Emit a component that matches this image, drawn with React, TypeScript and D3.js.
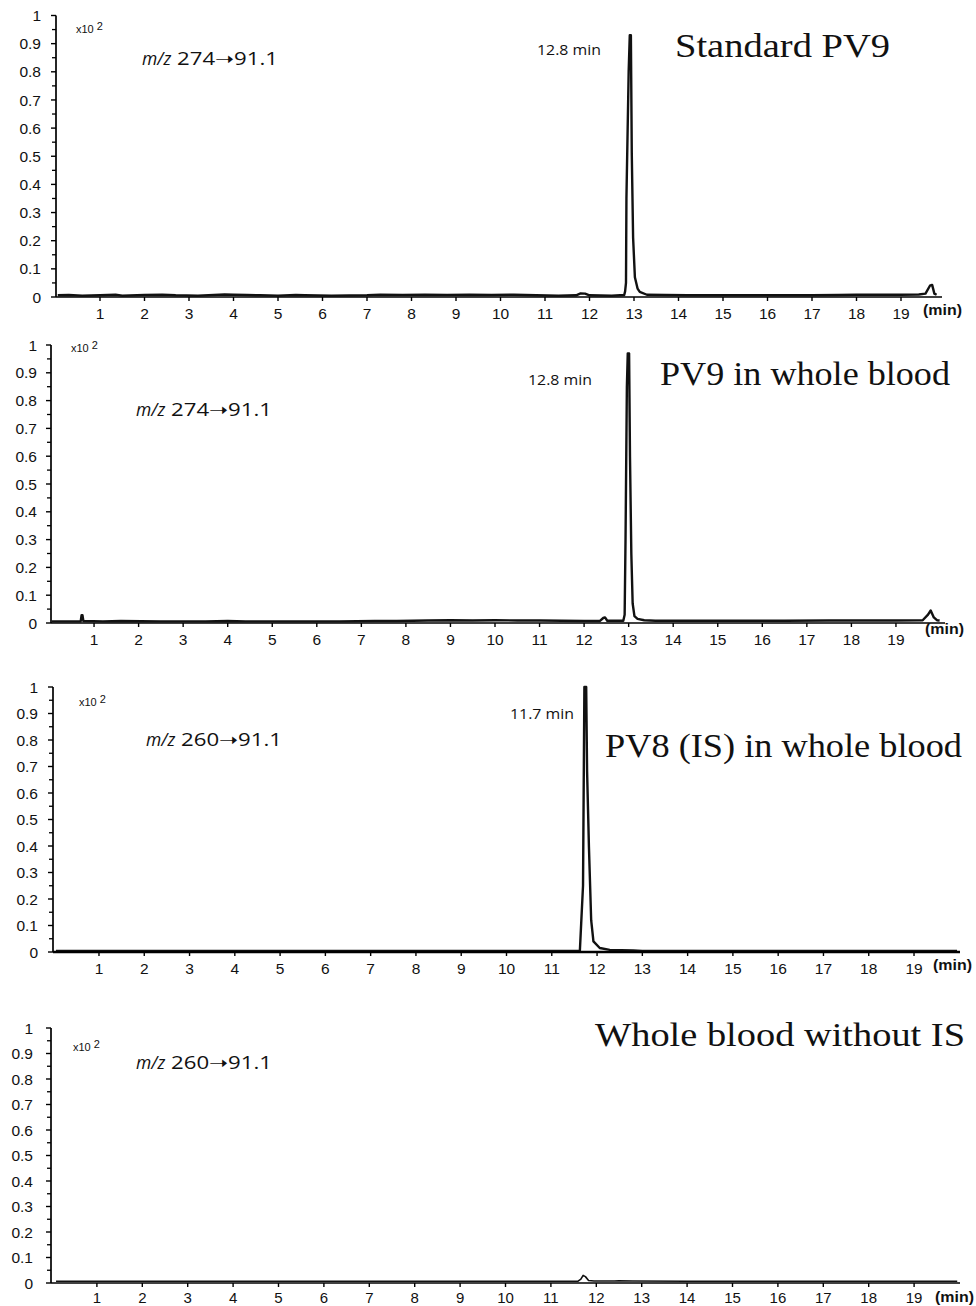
import React from "react";
import * as d3 from "d3";

// ---------- data ----------
const titles = ["Standard PV9", "PV9 in whole blood", "PV8 (IS) in whole blood", "Whole blood without IS"];
const transitions = ["274\u279D91.1", "274\u279D91.1", "260\u279D91.1", "260\u279D91.1"];
const rtLabels = ["12.8 min", "12.8 min", "11.7 min", ""];
const xTicks = [1, 2, 3, 4, 5, 6, 7, 8, 9, 10, 11, 12, 13, 14, 15, 16, 17, 18, 19];
const yTicks = [0, 0.1, 0.2, 0.3, 0.4, 0.5, 0.6, 0.7, 0.8, 0.9, 1];
const yMinorTicks = [0.05, 0.15, 0.25, 0.35, 0.45, 0.55, 0.65, 0.75, 0.85, 0.95];

// Panel 1: Standard PV9
const p1Times = [0.05, 0.3, 0.6, 1.0, 1.35, 1.5, 2.0, 2.4, 2.7, 3.2, 3.8, 4.0, 4.3, 4.6, 5.0, 5.4, 5.6, 6.2, 7.0, 7.3, 7.8, 8.3, 8.8, 9.3, 9.8, 10.3, 10.8, 11.3, 11.7, 11.8, 11.9, 12.0, 12.5, 12.78, 12.8, 12.82, 12.83, 12.88, 12.905, 12.93, 12.95, 12.98, 13.02, 13.08, 13.13, 13.29, 13.7, 14.2, 15, 16, 17, 17.6, 18.0, 18.5, 19.0, 19.4, 19.55, 19.65, 19.7, 19.75, 19.8];
const p1Values = [0.006, 0.007, 0.005, 0.006, 0.008, 0.005, 0.007, 0.008, 0.006, 0.005, 0.009, 0.008, 0.007, 0.006, 0.005, 0.007, 0.006, 0.005, 0.006, 0.008, 0.007, 0.008, 0.007, 0.008, 0.007, 0.008, 0.006, 0.005, 0.006, 0.013, 0.012, 0.006, 0.005, 0.007, 0.02, 0.05, 0.35, 0.8, 0.93, 0.93, 0.51, 0.21, 0.07, 0.03, 0.018, 0.008, 0.007, 0.006, 0.006, 0.006, 0.006, 0.007, 0.008, 0.008, 0.008, 0.009, 0.012, 0.04, 0.043, 0.012, 0.008];

// Panel 2: PV9 in whole blood
const p2Times = [0.05, 0.4, 0.7, 0.72, 0.74, 0.76, 1.2, 1.6, 2.5, 3.5, 4.0, 4.4, 5.5, 6.5, 7.3, 7.8, 8.5, 9.0, 9.5, 10.0, 10.5, 11.0, 11.5, 12.0, 12.35, 12.43, 12.47, 12.52, 12.88, 12.91, 12.93, 12.96, 12.98, 13.01, 13.03, 13.06, 13.09, 13.13, 13.2, 13.35, 13.6, 14.5, 15.5, 16.5, 17.5, 18.5, 19.0, 19.6, 19.72, 19.78, 19.85, 19.92, 19.98];
const p2Values = [0.006, 0.006, 0.006, 0.028, 0.028, 0.007, 0.006, 0.007, 0.006, 0.006, 0.007, 0.006, 0.006, 0.006, 0.007, 0.007, 0.009, 0.01, 0.009, 0.01, 0.009, 0.009, 0.008, 0.007, 0.007, 0.018, 0.02, 0.008, 0.008, 0.03, 0.3, 0.85, 0.97, 0.97, 0.6, 0.25, 0.07, 0.025, 0.015, 0.01, 0.008, 0.008, 0.008, 0.008, 0.009, 0.009, 0.009, 0.01, 0.03, 0.045, 0.02, 0.01, 0.009];

// Panel 3: PV8 (IS) in whole blood
const p3Times = [0.05, 2, 4, 6, 8, 10, 11, 11.62, 11.65, 11.69, 11.72, 11.76, 11.78, 11.82, 11.87, 11.92, 12.06, 12.28, 12.8, 13.0, 15, 17, 19.95];
const p3Values = [0.004, 0.004, 0.004, 0.004, 0.004, 0.004, 0.004, 0.004, 0.11, 0.25, 1.0, 1.0, 0.68, 0.4, 0.12, 0.04, 0.015, 0.008, 0.006, 0.004, 0.004, 0.004, 0.004];

// Panel 4: whole blood without IS
const p4Times = [0.1, 3, 6, 9, 11, 11.6, 11.66, 11.71, 11.76, 11.83, 11.95, 12.4, 12.5, 12.8, 14, 17, 19.95];
const p4Values = [0.007, 0.007, 0.007, 0.007, 0.007, 0.007, 0.015, 0.03, 0.025, 0.01, 0.008, 0.008, 0.009, 0.008, 0.007, 0.007, 0.007];

// ---------- layout ----------
const layouts = [
  { times: p1Times, values: p1Values, t0: 55.5, ppm: 44.5, axisX: 56, axisEnd: 942, yTop: 15.5, yBot: 297, labelRight: 41, tickDy: 22, tickFs: 15.5,
    minX: 923, minDy: 18, title: { x: 675, y: 57, w: 215 }, rt: { x: 537, y: 55 }, mz: { x: 142, y: 65 }, x10: { x: 76, y: 33 }, trace: 2.4, axisW: 1.6 },
  { times: p2Times, values: p2Values, t0: 49.5, ppm: 44.55, axisX: 51, axisEnd: 945, yTop: 345, yBot: 623, labelRight: 37, tickDy: 22, tickFs: 15.5,
    minX: 925, minDy: 11, title: { x: 660, y: 385, w: 290 }, rt: { x: 528, y: 385 }, mz: { x: 136, y: 416 }, x10: { x: 71, y: 352 }, trace: 2.4, axisW: 1.6 },
  { times: p3Times, values: p3Values, t0: 53.7, ppm: 45.28, axisX: 53, axisEnd: 960, yTop: 687, yBot: 952, labelRight: 38, tickDy: 22, tickFs: 15.5,
    minX: 933, minDy: 18, title: { x: 605, y: 757, w: 357 }, rt: { x: 510, y: 719 }, mz: { x: 146, y: 746 }, x10: { x: 79, y: 706 }, trace: 2.4, axisW: 2.4 },
  { times: p4Times, values: p4Values, t0: 51.5, ppm: 45.4, axisX: 51, axisEnd: 960, yTop: 1028, yBot: 1283, labelRight: 33, tickDy: 19.5, tickFs: 15,
    minX: 935, minDy: 18.5, title: { x: 595, y: 1046, w: 370 }, rt: { x: 0, y: 0 }, mz: { x: 136, y: 1069 }, x10: { x: 73, y: 1051 }, trace: 1.6, axisW: 1.6 },
];

const sans = "'Liberation Sans', Arial, sans-serif";
const calib = "'Open Sans', 'Liberation Sans', sans-serif";
const serif = "'Liberation Serif', 'DejaVu Serif', serif";

function Panel({ i }: { i: number }) {
  const L = layouts[i];
  const x = d3.scaleLinear().domain([0, 20]).range([L.t0, L.t0 + 20 * L.ppm]);
  const y = d3.scaleLinear().domain([0, 1]).range([L.yBot, L.yTop]);
  const pts: [number, number][] = L.times.map((t, k) => [t, L.values[k]]);
  const line = d3.line<[number, number]>().x((d) => x(d[0])).y((d) => y(d[1]));
  const fmt = (v: number) => (v === 0 ? "0" : v === 1 ? "1" : d3.format(".1f")(v));
  return (
    <g>
      {/* y axis */}
      <line x1={L.axisX} x2={L.axisX} y1={y(1)} y2={y(0)} stroke="#000" strokeWidth={1.7} />
      {yTicks.map((v) => (
        <g key={"y" + v}>
          <line x1={L.axisX - 5} x2={L.axisX} y1={y(v)} y2={y(v)} stroke="#000" strokeWidth={1.4} />
          <text x={L.labelRight} y={y(v)} dy="0.36em" textAnchor="end" fontFamily={sans} fontSize={15.5} fill="#111">
            {fmt(v)}
          </text>
        </g>
      ))}
      {yMinorTicks.map((v) => (
        <line key={"m" + v} x1={L.axisX - 4} x2={L.axisX} y1={y(v)} y2={y(v)} stroke="#000" strokeWidth={1.3} />
      ))}
      {/* x axis */}
      {xTicks.map((t) => (
        <g key={"x" + t}>
          <line x1={x(t)} x2={x(t)} y1={y(0)} y2={y(0) + 4} stroke="#000" strokeWidth={1.4} />
          <text x={x(t)} y={y(0) + L.tickDy} textAnchor="middle" fontFamily={sans} fontSize={L.tickFs} fill="#111">
            {t}
          </text>
        </g>
      ))}
      <path d={line(pts) || ""} fill="none" stroke="#111" strokeWidth={L.trace} strokeLinejoin="round" />
      <line x1={L.axisX} x2={L.axisEnd} y1={y(0)} y2={y(0)} stroke="#000" strokeWidth={L.axisW} />
      <text x={L.minX} y={y(0) + L.minDy} fontFamily={sans} fontWeight="bold" fontSize={15} textLength={39} lengthAdjust="spacingAndGlyphs" fill="#111">
        (min)
      </text>
      {/* annotations */}
      <text x={L.x10.x} y={L.x10.y} fontFamily={sans} fontSize={11} fill="#111">
        x10<tspan dx="3" dy="-3" fontSize={11}>2</tspan>
      </text>
      <text x={L.mz.x} y={L.mz.y} fontFamily={calib} fontStyle="italic" fontSize={17.5} fill="#111">
        m/z
      </text>
      <text x={L.mz.x + 35} y={L.mz.y} fontFamily={calib} fontSize={17.5} textLength={101} lengthAdjust="spacingAndGlyphs" fill="#111">
        {transitions[i]}
      </text>
      {rtLabels[i] && (
        <text x={L.rt.x} y={L.rt.y} fontFamily={calib} fontSize={15} textLength={64} lengthAdjust="spacingAndGlyphs" fill="#111">
          {rtLabels[i]}
        </text>
      )}
      <text x={L.title.x} y={L.title.y} fontFamily={serif} fontSize={33} textLength={L.title.w} lengthAdjust="spacingAndGlyphs" fill="#111">
        {titles[i]}
      </text>
    </g>
  );
}

export default function App() {
  return (
    <div style={{ position: "absolute", left: 0, top: 0 }}>
      <svg width={976} height={1306} style={{ display: "block", background: "#fff" }}>
        {layouts.map((_, i) => (
          <Panel key={i} i={i} />
        ))}
      </svg>
    </div>
  );
}
